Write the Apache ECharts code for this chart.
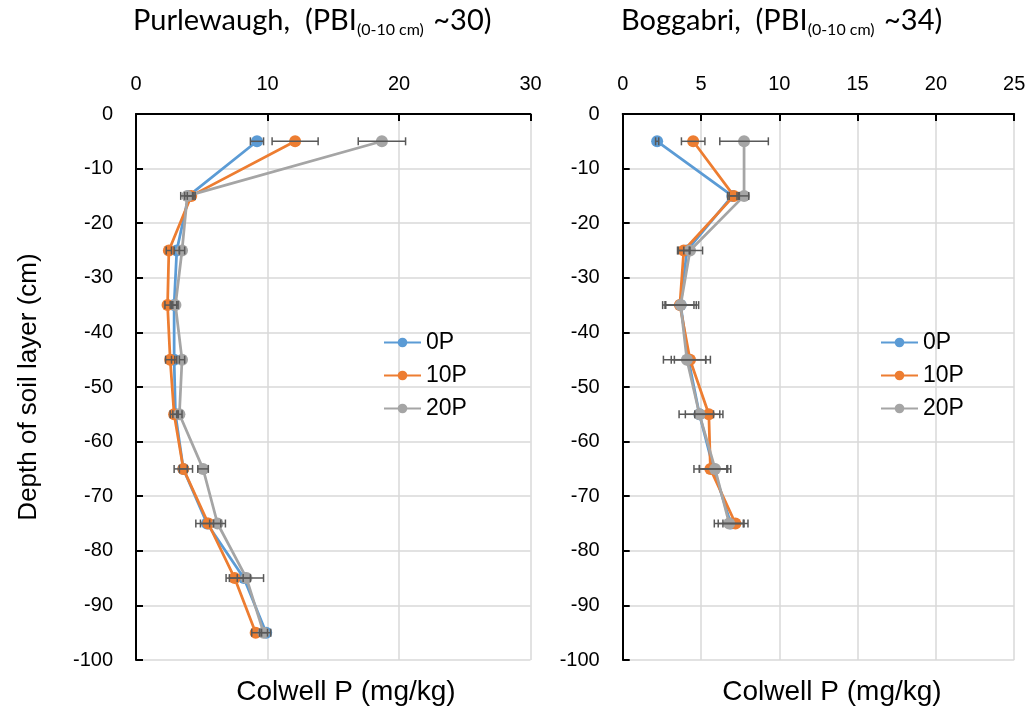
<!DOCTYPE html>
<html><head><meta charset="utf-8">
<script src="https://cdn.jsdelivr.net/npm/echarts@6/dist/echarts.min.js"></script>
<style>html,body{margin:0;padding:0;background:#fff}#c{width:1035px;height:713px}</style>
</head><body><div id="c"></div>
<script>
// ---- data ----
const seriesNames = ['0P', '10P', '20P'];
const depthsPurlewaugh = [-5, -15, -25, -35, -45, -55, -65, -75, -85, -95];
const purl0P  = [9.2, 4.0, 3.1, 2.9, 2.9, 3.0, 3.6, 5.4, 8.2, 9.9];
const purl10P = [12.1, 4.2, 2.5, 2.4, 2.6, 2.9, 3.6, 5.5, 7.5, 9.1];
const purl20P = [18.7, 3.9, 3.5, 3.0, 3.5, 3.3, 5.1, 6.2, 8.4, 9.7];
const purl0PErr  = [0.5, 0.3, 0.2, 0.2, 0.2, 0.2, 0.3, 0.5, 0.5, 0.35];
const purl10PErr = [1.75, 0.3, 0.2, 0.2, 0.35, 0.3, 0.7, 0.95, 0.65, 0.3];
const purl20PErr = [1.8, 0.5, 0.2, 0.2, 0.2, 0.2, 0.4, 0.6, 1.3, 0.3];

const depthsBoggabri = [-5, -15, -25, -35, -45, -55, -65, -75];
const bogg0P  = [2.2, 7.0, 4.1, 3.7, 4.2, 4.9, 5.8, 6.9];
const bogg10P = [4.5, 7.1, 3.9, 3.65, 4.3, 5.5, 5.6, 7.2];
const bogg20P = [7.75, 7.75, 4.3, 3.7, 4.1, 4.9, 5.9, 6.8];
const bogg0PErr  = [0.1, 0.3, 0.2, 1.0, 1.1, 0.9, 0.9, 0.8];
const bogg10PErr = [0.75, 0.3, 0.35, 0.9, 1.0, 0.9, 1.05, 0.8];
const bogg20PErr = [1.55, 0.3, 0.8, 1.15, 1.5, 1.3, 1.0, 0.95];

const xTicksPurl = [0, 10, 20, 30];
const xTicksBogg = [0, 5, 10, 15, 20, 25];
const yTicks = [0, -10, -20, -30, -40, -50, -60, -70, -80, -90, -100];

const titles = [['Purlewaugh,  (PBI', '(0-10 cm)', ' ~30)'], ['Boggabri,  (PBI', '(0-10 cm)', ' ~34)']];
const xName = 'Colwell P (mg/kg)';
const yName = 'Depth of soil layer (cm)';

// ---- chart ----
const colors = ['#5B9BD5', '#ED7D31', '#A5A5A5'];
const FONT = '"Liberation Sans", Arial, sans-serif';
const TFONT = 'Lato, "Liberation Sans", sans-serif';
const chart = echarts.init(document.getElementById('c'));

function pairs(xs, ys) { return xs.map((v, i) => [v, ys[i]]); }
function errData(xs, ys, es) { return xs.map((v, i) => [v, ys[i], es[i]]); }

function lineSeries(name, idx, gi, xs, ys) {
  return {
    type: 'line', name: name, xAxisIndex: gi, yAxisIndex: gi,
    data: pairs(xs, ys), symbol: 'circle', symbolSize: 12,
    lineStyle: { width: 2.75, color: colors[idx] },
    itemStyle: { color: colors[idx] }, z: 3 + idx, animation: false
  };
}
function errSeries(idx, gi, xs, ys, es) {
  return {
    type: 'custom', xAxisIndex: gi, yAxisIndex: gi, silent: true, z: 10,
    data: errData(xs, ys, es), animation: false,
    renderItem: function (params, api) {
      const y = api.value(1), x = api.value(0), e = api.value(2);
      const p1 = api.coord([x - e, y]), p2 = api.coord([x + e, y]);
      const st = { stroke: '#595959', lineWidth: 1.5 };
      const h = 4;
      return { type: 'group', children: [
        { type: 'line', shape: { x1: p1[0], y1: p1[1], x2: p2[0], y2: p2[1] }, style: st },
        { type: 'line', shape: { x1: p1[0], y1: p1[1] - h, x2: p1[0], y2: p1[1] + h }, style: st },
        { type: 'line', shape: { x1: p2[0], y1: p2[1] - h, x2: p2[0], y2: p2[1] + h }, style: st }
      ]};
    }
  };
}

function xAxis(gi, ticks) {
  return {
    type: 'value', gridIndex: gi, position: 'top', min: ticks[0], max: ticks[ticks.length - 1],
    interval: ticks[1] - ticks[0],
    axisLine: { show: true, onZero: false, lineStyle: { color: '#000', width: 2 } },
    axisTick: { show: true, inside: true, length: 7, lineStyle: { color: '#000', width: 2 } },
    axisLabel: { color: '#000', fontSize: 20, fontFamily: FONT, margin: 20 },
    splitLine: { show: true, lineStyle: { color: '#d9d9d9', width: 1.5 } }
  };
}
function yAxis(gi, withName) {
  const a = {
    type: 'value', gridIndex: gi, min: yTicks[yTicks.length - 1], max: yTicks[0], interval: 10,
    axisLine: { show: true, onZero: false, lineStyle: { color: '#000', width: 2 } },
    axisTick: { show: true, inside: true, length: 7, lineStyle: { color: '#000', width: 2 } },
    axisLabel: { color: '#000', fontSize: 20, fontFamily: FONT, margin: 23 },
    splitLine: { show: true, lineStyle: { color: '#d9d9d9', width: 1.5 } }
  };
  if (withName) {
    Object.assign(a, { name: yName, nameLocation: 'middle', nameGap: 94, nameRotate: 90,
      nameTextStyle: { color: '#000', fontSize: 26, fontFamily: FONT } });
  }
  return a;
}
function titleObj(t, left) {
  return {
    text: '{a|' + t[0] + '}{s|' + t[1] + '}{a|' + t[2] + '}', left: left, top: -2,
    textStyle: { rich: {
      a: { fontSize: 29, fontFamily: TFONT, fontWeight: 'normal', color: '#000', lineHeight: 36, verticalAlign: 'middle' },
      s: { fontSize: 16, fontFamily: TFONT, fontWeight: 'normal', color: '#000', lineHeight: 36, verticalAlign: 'middle', padding: [17, 2, 0, 0] }
    } }
  };
}
function legendObj(left) {
  return { orient: 'vertical', left: left, top: 326, itemGap: 10, itemWidth: 37, itemHeight: 12,
    data: seriesNames, textStyle: { fontSize: 23, fontFamily: FONT, color: '#000' } };
}

const option = {
  animation: false,
  title: [titleObj(titles[0], 128), titleObj(titles[1], 616)],
  grid: [
    { left: 136, top: 114, width: 394.5, height: 546 },
    { left: 622.7, top: 114, width: 391.5, height: 546 }
  ],
  xAxis: [xAxis(0, xTicksPurl), xAxis(1, xTicksBogg)],
  yAxis: [yAxis(0, true), yAxis(1, false)],
  legend: [legendObj(378), legendObj(875)],
  graphic: [
    { type: 'text', x: 346, y: 692, style: { text: xName, fontSize: 28, fontFamily: FONT, fill: '#000', textAlign: 'center', textVerticalAlign: 'middle' } },
    { type: 'text', x: 832, y: 692, style: { text: xName, fontSize: 28, fontFamily: FONT, fill: '#000', textAlign: 'center', textVerticalAlign: 'middle' } }
  ],
  series: [
    lineSeries(seriesNames[0], 0, 0, purl0P, depthsPurlewaugh),
    lineSeries(seriesNames[1], 1, 0, purl10P, depthsPurlewaugh),
    lineSeries(seriesNames[2], 2, 0, purl20P, depthsPurlewaugh),
    errSeries(0, 0, purl0P, depthsPurlewaugh, purl0PErr),
    errSeries(1, 0, purl10P, depthsPurlewaugh, purl10PErr),
    errSeries(2, 0, purl20P, depthsPurlewaugh, purl20PErr),
    lineSeries(seriesNames[0], 0, 1, bogg0P, depthsBoggabri),
    lineSeries(seriesNames[1], 1, 1, bogg10P, depthsBoggabri),
    lineSeries(seriesNames[2], 2, 1, bogg20P, depthsBoggabri),
    errSeries(0, 1, bogg0P, depthsBoggabri, bogg0PErr),
    errSeries(1, 1, bogg10P, depthsBoggabri, bogg10PErr),
    errSeries(2, 1, bogg20P, depthsBoggabri, bogg20PErr)
  ]
};
chart.setOption(option);
</script></body></html>
